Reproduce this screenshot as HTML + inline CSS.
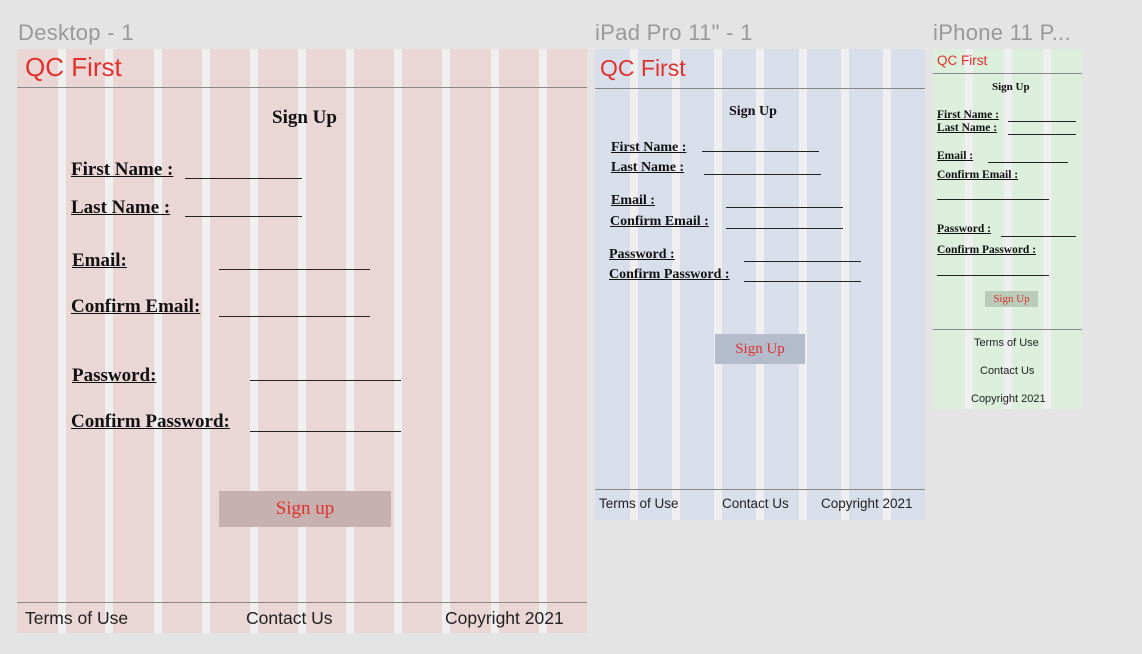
<!DOCTYPE html>
<html><head><meta charset="utf-8"><style>
*{margin:0;padding:0;box-sizing:border-box}
body{width:1142px;height:654px;background:#e4e4e4;position:relative;overflow:hidden;font-family:"Liberation Sans",sans-serif}
div{position:absolute}
.g{background:#efefef;top:0;bottom:0;width:8px}
.t{color:#999;font-size:22px;line-height:1;white-space:nowrap;letter-spacing:0.3px}
.s{font-family:"Liberation Serif",serif;font-weight:bold;color:#111;text-decoration:underline;white-space:nowrap;line-height:1}
.l{height:1.3px;background:#222}
.h{height:1px;background:#888;left:0;right:0}
.f{color:#222;white-space:nowrap;line-height:1}
.q{color:#e0322c;white-space:nowrap;line-height:1}
.b{font-family:"Liberation Serif",serif;color:#e0322c;display:flex;align-items:center;justify-content:center}
</style></head><body>
<div class="t" style="left:18px;top:22px">Desktop - 1</div>
<div class="t" style="left:595px;top:22px">iPad Pro 11" - 1</div>
<div class="t" style="left:933px;top:22px">iPhone 11 P...</div>

<!-- Desktop -->
<div style="left:17px;top:49px;width:570px;height:584px;background:#ebd6d6">
<div class="g" style="left:41px"></div><div class="g" style="left:88px"></div><div class="g" style="left:137px"></div><div class="g" style="left:185px"></div><div class="g" style="left:233px"></div><div class="g" style="left:281px"></div><div class="g" style="left:329px"></div><div class="g" style="left:377px"></div><div class="g" style="left:425px"></div><div class="g" style="left:474px"></div><div class="g" style="left:522px"></div>
<div class="h" style="top:38px"></div>
<div class="h" style="top:553px"></div>
</div>
<div class="q" style="left:25px;top:54px;font-size:26px">QC First</div>
<div class="s" style="left:272px;top:108px;font-size:19px;text-decoration:none">Sign Up</div>
<div class="s" style="left:71px;top:160px;font-size:19px">First Name :</div>
<div class="l" style="left:185px;top:178px;width:117px"></div>
<div class="s" style="left:71px;top:198px;font-size:19px">Last Name :</div>
<div class="l" style="left:185px;top:216px;width:117px"></div>
<div class="s" style="left:72px;top:251px;font-size:19px">Email:</div>
<div class="l" style="left:219px;top:269px;width:151px"></div>
<div class="s" style="left:71px;top:297px;font-size:19px">Confirm Email:</div>
<div class="l" style="left:219px;top:316px;width:151px"></div>
<div class="s" style="left:72px;top:366px;font-size:19px">Password:</div>
<div class="l" style="left:250px;top:380px;width:151px"></div>
<div class="s" style="left:71px;top:412px;font-size:19px">Confirm Password:</div>
<div class="l" style="left:250px;top:431px;width:151px"></div>
<div class="b" style="left:219px;top:491px;width:172px;height:36px;background:#c6b0b0;font-size:19px">Sign up</div>
<div class="f" style="left:25px;top:610px;font-size:17.5px">Terms of Use</div>
<div class="f" style="left:246px;top:610px;font-size:17.5px">Contact Us</div>
<div class="f" style="left:445px;top:610px;font-size:17.5px">Copyright 2021</div>

<!-- iPad -->
<div style="left:595px;top:49px;width:330px;height:471px;background:#d8dfeb">
<div class="g" style="left:35px"></div><div class="g" style="left:77px"></div><div class="g" style="left:119px"></div><div class="g" style="left:161px"></div><div class="g" style="left:204px"></div><div class="g" style="left:246px"></div><div class="g" style="left:288px"></div>
<div class="h" style="top:39px"></div>
<div class="h" style="top:440px"></div>
</div>
<div class="q" style="left:600px;top:57px;font-size:23px">QC First</div>
<div class="s" style="left:729px;top:105px;font-size:14px;text-decoration:none">Sign Up</div>
<div class="s" style="left:611px;top:141px;font-size:14px">First Name :</div>
<div class="l" style="left:702px;top:151px;width:117px"></div>
<div class="s" style="left:611px;top:161px;font-size:14px">Last Name :</div>
<div class="l" style="left:704px;top:174px;width:117px"></div>
<div class="s" style="left:611px;top:194px;font-size:14px">Email :</div>
<div class="l" style="left:726px;top:207px;width:117px"></div>
<div class="s" style="left:610px;top:215px;font-size:14px">Confirm Email :</div>
<div class="l" style="left:726px;top:228px;width:117px"></div>
<div class="s" style="left:609px;top:248px;font-size:14px">Password :</div>
<div class="l" style="left:744px;top:261px;width:117px"></div>
<div class="s" style="left:609px;top:268px;font-size:14px">Confirm Password :</div>
<div class="l" style="left:744px;top:281px;width:117px"></div>
<div class="b" style="left:715px;top:334px;width:90px;height:30px;background:#b4bccc;font-size:15px">Sign Up</div>
<div class="f" style="left:599px;top:497px;font-size:13.5px">Terms of Use</div>
<div class="f" style="left:722px;top:497px;font-size:13.5px">Contact Us</div>
<div class="f" style="left:821px;top:497px;font-size:13.5px">Copyright 2021</div>

<!-- iPhone -->
<div style="left:933px;top:49px;width:149px;height:360px;background:#dbefdc">
<div class="g" style="left:32px"></div><div class="g" style="left:71px"></div><div class="g" style="left:110px"></div>
<div class="h" style="top:24px"></div>
<div class="h" style="top:280px"></div>
</div>
<div class="q" style="left:937px;top:54px;font-size:13.5px">QC First</div>
<div class="s" style="left:992px;top:82px;font-size:11px;text-decoration:none">Sign Up</div>
<div class="s" style="left:937px;top:110px;font-size:11.5px">First Name :</div>
<div class="l" style="left:1008px;top:121px;width:68px"></div>
<div class="s" style="left:937px;top:123px;font-size:11.5px">Last Name :</div>
<div class="l" style="left:1008px;top:134px;width:68px"></div>
<div class="s" style="left:937px;top:151px;font-size:11.5px">Email :</div>
<div class="l" style="left:988px;top:162px;width:80px"></div>
<div class="s" style="left:937px;top:170px;font-size:11.5px">Confirm Email :</div>
<div class="l" style="left:937px;top:199px;width:112px"></div>
<div class="s" style="left:937px;top:224px;font-size:11.5px">Password :</div>
<div class="l" style="left:1001px;top:236px;width:75px"></div>
<div class="s" style="left:937px;top:245px;font-size:11.5px">Confirm Password :</div>
<div class="l" style="left:937px;top:275px;width:112px"></div>
<div class="b" style="left:985px;top:291px;width:53px;height:16px;background:#b8ccb9;font-size:11px">Sign Up</div>
<div class="f" style="left:974px;top:338px;font-size:11px">Terms of Use</div>
<div class="f" style="left:980px;top:366px;font-size:11px">Contact Us</div>
<div class="f" style="left:971px;top:394px;font-size:11px">Copyright 2021</div>
</body></html>
